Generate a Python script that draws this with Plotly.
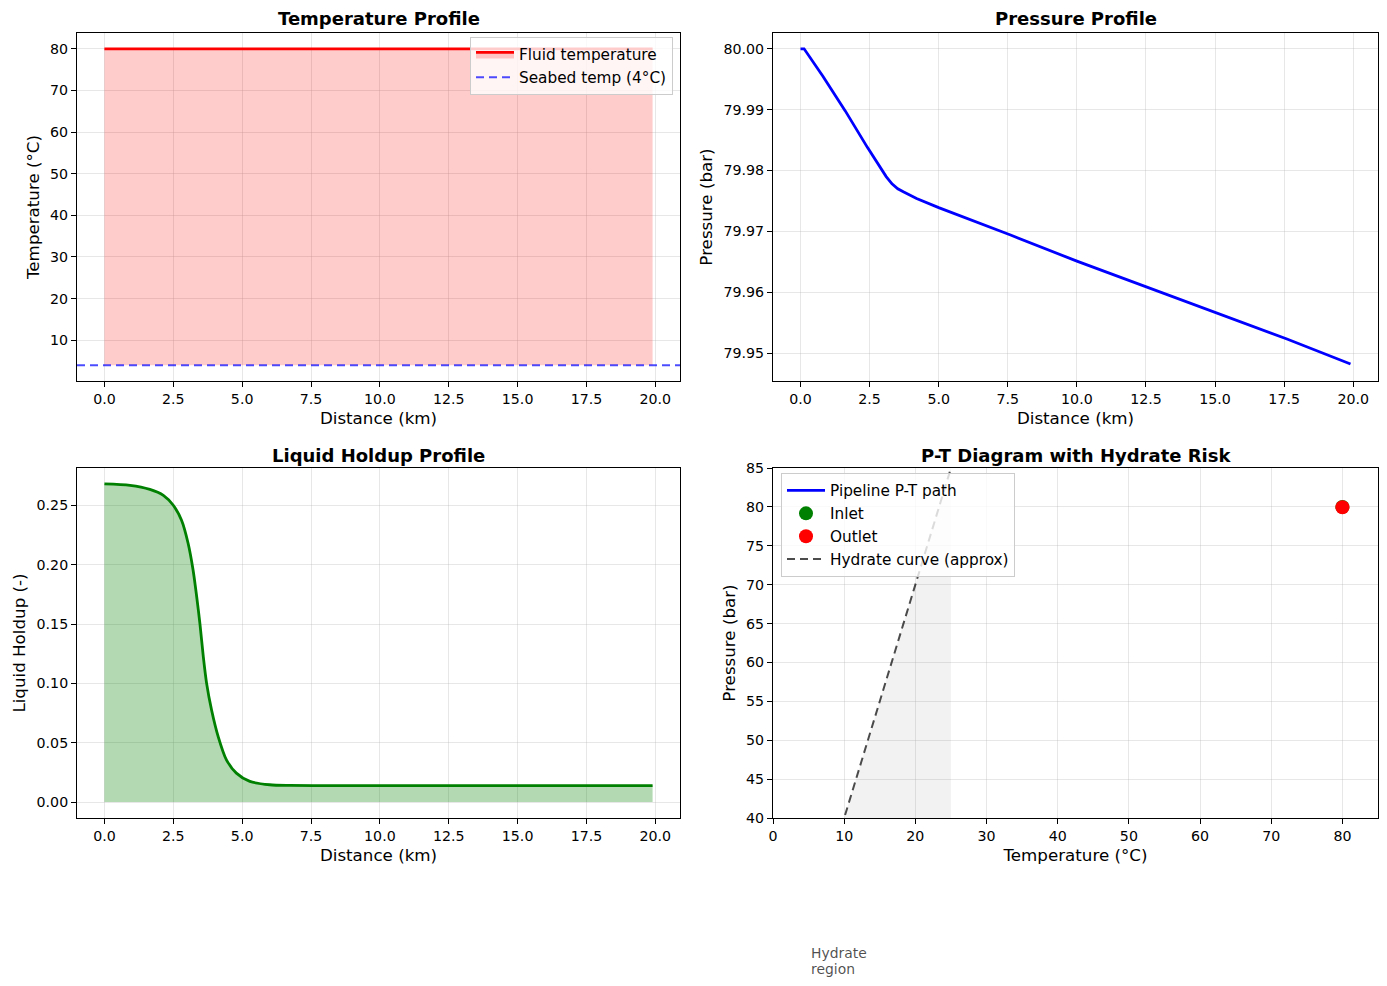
import plotly.graph_objects as go

# temperature profile
temp_distance_km = [0.0, 19.9]
fluid_temp_c = [80.0, 80.0]
seabed_temp_c = [4.0, 4.0]

# pressure profile
pressure_distance_km = [0.0, 0.13, 0.81, 1.62, 2.42, 2.91, 3.1, 3.31, 3.52, 3.72, 4.2, 5.0,
                        7.6, 10.0, 12.6, 15.0, 17.6, 19.9]
pressure_bar = [80.0, 80.0, 79.9955, 79.9898, 79.9838, 79.9803, 79.9790, 79.9778, 79.9770,
                79.9765, 79.9754, 79.9739, 79.9694, 79.9651, 79.9607, 79.9567, 79.9523, 79.9482]

# liquid holdup profile
holdup_distance_km = [0.0, 0.93, 1.65, 2.14, 2.5, 2.8, 3.04, 3.22, 3.35, 3.47, 3.59, 3.71,
                      3.89, 4.13, 4.43, 4.79, 5.28, 6.0, 6.73, 8.0, 19.9]
holdup = [0.268, 0.2668, 0.2634, 0.2584, 0.25, 0.2374, 0.2178, 0.1953, 0.173, 0.1497, 0.1225,
          0.10, 0.0776, 0.0552, 0.0356, 0.0244, 0.0174, 0.0146, 0.0140, 0.0139, 0.0139]

# P-T diagram
path_temp_c = [80.0, 80.0]
path_pressure_bar = [80.0, 79.948]
inlet = (80.0, 80.0)
outlet = (80.0, 79.948)
hydrate_temp_c = [0.0, 25.0]
hydrate_pressure_bar = [10.0, 85.0]

FONT = "DejaVu Sans"
OFF = 8  # page body margin
W, H = 1387 - OFF, 986 - OFF
ML, MR, MT, MB = 77 - OFF, 9, 33 - OFF, 168
PW, PH = W - ML - MR, H - MT - MB

fig = go.Figure()

# --- temperature ---
fig.add_trace(go.Scatter(x=temp_distance_km, y=seabed_temp_c, mode="lines",
                         line=dict(width=0), showlegend=False, hoverinfo="skip",
                         xaxis="x", yaxis="y"))
fig.add_trace(go.Scatter(x=temp_distance_km, y=fluid_temp_c, mode="lines",
                         name="Fluid temperature", line=dict(color="red", width=2.8),
                         fill="tonexty", fillcolor="rgba(255,0,0,0.2)",
                         xaxis="x", yaxis="y", legend="legend", legendgroup="a", legendrank=1))
fig.add_shape(type="line", xref="x domain", yref="y", x0=0, x1=1,
              y0=seabed_temp_c[0], y1=seabed_temp_c[0],
              line=dict(color="rgba(0,0,255,0.7)", width=2, dash="8px,5px"),
              name="Seabed temp (4°C)", showlegend=True, legend="legend",
              legendgroup="b", legendrank=2)

# --- pressure ---
fig.add_trace(go.Scatter(x=pressure_distance_km, y=pressure_bar, mode="lines",
                         line=dict(color="blue", width=2.8), showlegend=False,
                         xaxis="x2", yaxis="y2"))

# --- holdup ---
fig.add_trace(go.Scatter(x=holdup_distance_km, y=holdup, mode="lines",
                         line=dict(color="green", width=2.8, shape="spline", smoothing=0.8),
                         fill="tozeroy", fillcolor="rgba(0,128,0,0.3)", showlegend=False,
                         xaxis="x3", yaxis="y3"))

# --- P-T diagram ---
fig.add_trace(go.Scatter(x=hydrate_temp_c, y=hydrate_pressure_bar, mode="lines",
                         line=dict(width=0), fill="tozeroy", fillcolor="rgba(128,128,128,0.1)",
                         showlegend=False, hoverinfo="skip", xaxis="x4", yaxis="y4"))
fig.add_trace(go.Scatter(x=path_temp_c, y=path_pressure_bar, mode="lines",
                         name="Pipeline P-T path", line=dict(color="blue", width=2.8),
                         xaxis="x4", yaxis="y4", legend="legend2", legendgroup="c"))
fig.add_trace(go.Scatter(x=[inlet[0]], y=[inlet[1]], mode="markers", name="Inlet",
                         marker=dict(color="green", size=14),
                         xaxis="x4", yaxis="y4", legend="legend2", legendgroup="d"))
fig.add_trace(go.Scatter(x=[outlet[0]], y=[outlet[1]], mode="markers", name="Outlet",
                         marker=dict(color="red", size=14),
                         xaxis="x4", yaxis="y4", legend="legend2", legendgroup="e"))
fig.add_trace(go.Scatter(x=hydrate_temp_c, y=hydrate_pressure_bar, mode="lines",
                         name="Hydrate curve (approx)",
                         line=dict(color="rgba(0,0,0,0.7)", width=2, dash="8px,5px"),
                         xaxis="x4", yaxis="y4", legend="legend2", legendgroup="f"))


# positions below are given in reference-image pixels
def px_x(a, b):
    return [(a - OFF - ML) / PW, (b - OFF - ML) / PW]


def px_y(top, bottom):
    return [(H - MB - (bottom - OFF)) / PH, (H - MB - (top - OFF)) / PH]


col_dom = [px_x(77, 680), px_x(773, 1378)]
row_dom = [px_y(33, 381), px_y(468, 818)]

axis_common = dict(showline=True, linecolor="black", linewidth=1, mirror=True,
                   ticks="outside", ticklen=5, tickwidth=1, tickcolor="black",
                   showgrid=True, gridcolor="rgba(176,176,176,0.3)", gridwidth=1,
                   zeroline=False, tickfont=dict(family=FONT, size=14.2, color="black"),
                   ticklabelstandoff=0, automargin=False)


def title(t):
    return dict(text=t, font=dict(family=FONT, size=16.7, color="black"), standoff=6)


dist_ticks = [0, 2.5, 5, 7.5, 10, 12.5, 15, 17.5, 20]
dist_range = [-0.995, 20.895]

legend_style = dict(bgcolor="rgba(255,255,255,0.8)", bordercolor="#cccccc", borderwidth=1,
                    font=dict(family=FONT, size=15.3, color="black"), tracegroupgap=0,
                    itemwidth=38)

fig.update_layout(
    xaxis=dict(domain=col_dom[0], anchor="y", range=dist_range, tickvals=dist_ticks,
               tickformat=".1f", title=title("Distance (km)"), **axis_common),
    yaxis=dict(domain=row_dom[0], anchor="x", range=[0.2, 83.8], dtick=10, tick0=0,
               title=title("Temperature (°C)"), **axis_common),
    xaxis2=dict(domain=col_dom[1], anchor="y2", range=dist_range, tickvals=dist_ticks,
                tickformat=".1f", title=title("Distance (km)"), **axis_common),
    yaxis2=dict(domain=row_dom[0], anchor="x2", range=[79.9454, 80.0026], dtick=0.01,
                tick0=79.95, tickformat=".2f", title=title("Pressure (bar)"), **axis_common),
    xaxis3=dict(domain=col_dom[0], anchor="y3", range=dist_range, tickvals=dist_ticks,
                tickformat=".1f", title=title("Distance (km)"), **axis_common),
    yaxis3=dict(domain=row_dom[1], anchor="x3", range=[-0.0134, 0.2814], dtick=0.05,
                tick0=0, tickformat=".2f", title=title("Liquid Holdup (-)"), **axis_common),
    xaxis4=dict(domain=col_dom[1], anchor="y4", range=[0, 85], dtick=10, tick0=0,
                title=title("Temperature (°C)"), **axis_common),
    yaxis4=dict(domain=row_dom[1], anchor="x4", range=[40, 85], dtick=5, tick0=40,
                title=title("Pressure (bar)"), **axis_common),
    legend=dict(x=px_x(673, 673)[0], y=px_y(37, 37)[0], xanchor="right", yanchor="top",
                **legend_style),
    legend2=dict(x=px_x(781, 781)[0], y=px_y(473, 473)[0], xanchor="left", yanchor="top",
                 **legend_style),
    width=W, height=H, margin=dict(l=ML, r=MR, t=MT, b=MB, autoexpand=False),
    paper_bgcolor="white", plot_bgcolor="white",
    font=dict(family=FONT, color="black"),
)

subplot_titles = ["Temperature Profile", "Pressure Profile",
                  "Liquid Holdup Profile", "P-T Diagram with Hydrate Risk"]
for i, t in enumerate(subplot_titles):
    xd = col_dom[i % 2]
    yd = row_dom[i // 2]
    fig.add_annotation(text=t, x=(xd[0] + xd[1]) / 2, y=yd[1], xref="paper", yref="paper",
                       xanchor="center", yanchor="bottom", yshift=2 if i < 2 else 0,
                       showarrow=False,
                       font=dict(family=FONT, size=18, color="black", weight="bold"))

for line_text, yc in [("Hydrate", 953), ("region", 969)]:
    fig.add_annotation(text=line_text, x=5, y=px_y(yc, yc)[0], xref="x4", yref="paper",
                       xanchor="left", yanchor="middle", align="left", showarrow=False,
                       font=dict(family=FONT, size=13.9, color="rgba(0,0,0,0.7)"))

fig.write_html("out.html")
